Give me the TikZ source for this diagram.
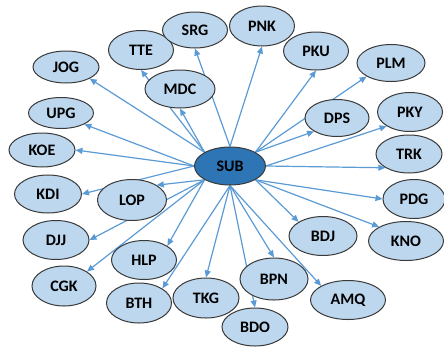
\documentclass[tikz,border=0pt]{standalone}
\usepackage{fontspec}
\setmainfont{Carlito}
\usetikzlibrary{shapes.geometric,arrows.meta,backgrounds}
\definecolor{leaffill}{HTML}{BDD7EE}
\definecolor{hubfill}{HTML}{2E75B6}
\definecolor{linkblue}{HTML}{5B9BD5}
\definecolor{rimgray}{HTML}{3A3A3A}
\tikzset{
  city/.style={ellipse, draw=rimgray, line width=1pt, fill=leaffill, inner sep=0pt,
    font=\fontsize{16}{18}\selectfont\bfseries, text=black},
  hub/.style={city, fill=hubfill, draw=rimgray},
  link/.style={draw=linkblue, line width=1.2pt, -{Triangle[length=7pt,width=6pt]}},
}
\begin{document}
\begin{tikzpicture}[x=1pt,y=-1pt]
\useasboundingbox (0,0) rectangle (444,346);
% hub
\node[hub, minimum width=71pt, minimum height=38pt] (sub) at (230,166) {SUB};
% destinations
\node[city, minimum width=66pt, minimum height=32pt] (jog) at (66,67) {JOG};
\node[city, minimum width=65pt, minimum height=31pt] (upg) at (61,113) {UPG};
\node[city, minimum width=66pt, minimum height=34pt] (koe) at (42,150) {KOE};
\node[city, minimum width=65pt, minimum height=39pt] (tte) at (141,50) {TTE};
\node[city, minimum width=65pt, minimum height=36pt] (srg) at (195,30) {SRG};
\node[city, minimum width=65pt, minimum height=40pt] (pnk) at (262,26) {PNK};
\node[city, minimum width=70pt, minimum height=38pt] (mdc) at (180,89) {MDC};
\node[city, minimum width=65pt, minimum height=38pt] (pku) at (316,51) {PKU};
\node[city, minimum width=68pt, minimum height=37pt] (plm) at (391,63) {PLM};
\node[city, minimum width=64pt, minimum height=37pt] (dps) at (337,118) {DPS};
\node[city, minimum width=65pt, minimum height=39pt] (pky) at (410,112) {PKY};
\node[city, minimum width=66pt, minimum height=38pt] (trk) at (409,154) {TRK};
\node[city, minimum width=67pt, minimum height=38pt] (kdi) at (48,194) {KDI};
\node[city, minimum width=69pt, minimum height=41pt] (lop) at (132,200) {LOP};
\node[city, minimum width=66pt, minimum height=39pt] (djj) at (56,240) {DJJ};
\node[city, minimum width=65pt, minimum height=39pt] (hlp) at (144,260) {HLP};
\node[city, minimum width=64pt, minimum height=40pt] (cgk) at (64,286) {CGK};
\node[city, minimum width=65pt, minimum height=40pt] (bth) at (139,303) {BTH};
\node[city, minimum width=66pt, minimum height=40pt] (tkg) at (206,298) {TKG};
\node[city, minimum width=66pt, minimum height=38pt] (bdo) at (255,327) {BDO};
\node[city, minimum width=68pt, minimum height=42pt] (bpn) at (274,279) {BPN};
\node[city, minimum width=75pt, minimum height=39pt] (amq) at (348,300) {AMQ};
\node[city, minimum width=68pt, minimum height=39pt] (bdj) at (323,236) {BDJ};
\node[city, minimum width=75pt, minimum height=39pt] (kno) at (406,241) {KNO};
\node[city, minimum width=62pt, minimum height=39pt] (pdg) at (414,199) {PDG};
% routes from the hub, attached at the ellipses' connection points,
% drawn beneath the ellipses
\begin{scope}[on background layer]
  \foreach \from/\dest/\at in {
      north west/jog/south east, west/upg/south east, west/koe/east,
      north west/tte/south, north west/mdc/south, north/srg/south,
      north/pnk/south, north east/pku/south, north east/plm/south west,
      north east/dps/south west, east/pky/south west, east/trk/south west,
      south east/pdg/west, south east/kno/north west, south east/bdj/north west,
      south/amq/north west, south/bpn/north, south/bdo/north,
      south/tkg/north, south/bth/north east, south west/hlp/north east,
      south west/cgk/north east, south west/djj/east, south west/lop/north east,
      west/kdi/east}
    \draw[link] (sub.\from) -- (\dest.\at);
\end{scope}
\end{tikzpicture}
\end{document}
